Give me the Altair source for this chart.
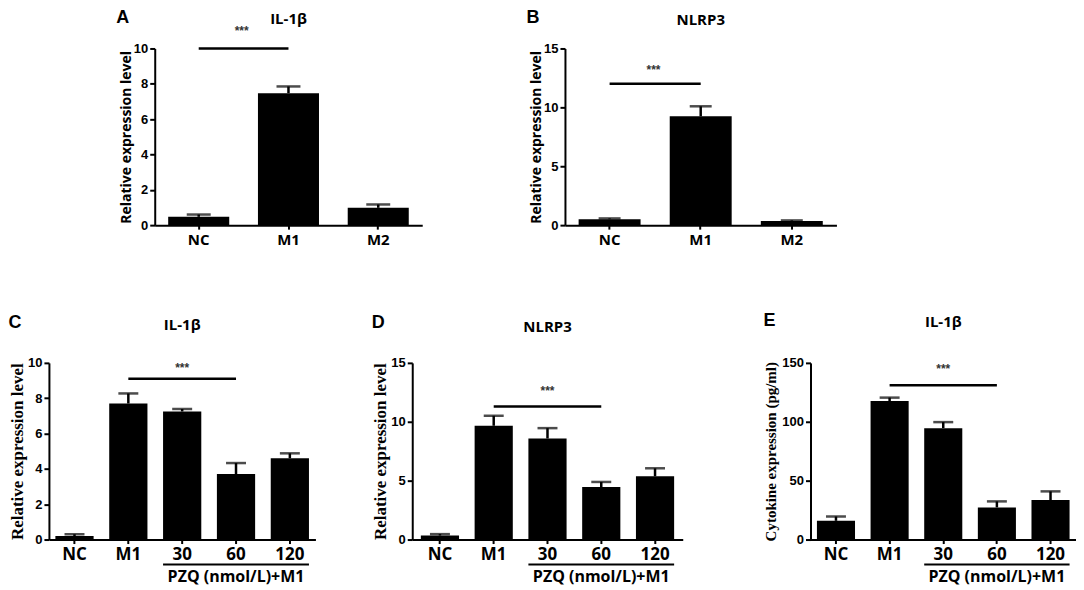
import altair as alt
import pandas as pd

# ---------------- data ----------------
# Panel A: IL-1beta (qPCR)
a_cats = ["NC", "M1", "M2"]
a_vals = [0.47, 7.47, 0.98]
a_errs = [0.13, 0.38, 0.19]
a_ticks = [0, 2, 4, 6, 8, 10]

# Panel B: NLRP3 (qPCR)
b_cats = ["NC", "M1", "M2"]
b_vals = [0.50, 9.24, 0.35]
b_errs = [0.07, 0.85, 0.05]
b_ticks = [0, 5, 10, 15]

# Panels C-E: PZQ treatment
pzq_cats = ["NC", "M1", "30", "60", "120"]
c_vals = [0.20, 7.70, 7.25, 3.71, 4.60]
c_errs = [0.10, 0.57, 0.14, 0.62, 0.28]
c_ticks = [0, 2, 4, 6, 8, 10]

d_vals = [0.34, 9.66, 8.58, 4.46, 5.37]
d_errs = [0.12, 0.85, 0.88, 0.43, 0.68]
d_ticks = [0, 5, 10, 15]

e_vals = [15.9, 117.6, 94.6, 27.3, 33.5]
e_errs = [3.7, 2.9, 5.1, 5.1, 7.4]
e_ticks = [0, 50, 100, 150]

# significance bars: (from, to, level)
a_sig = ("NC", "M1", 10.0)
b_sig = ("NC", "M1", 12.0)
c_sig = ("M1", "60", 9.1)
d_sig = ("M1", "60", 11.3)
e_sig = ("M1", "60", 131.0)

group_label = "PZQ (nmol/L)+M1"
one = pd.DataFrame({"a": [0]})


def panel(letter, gene, cats, vals, errs, ymax, yticks, ytitle, sig, star_cat,
          star_dx, star_dy, w, h, top_row, pi, po, cap_w, letter_xy, gene_y,
          ytitle_font, ytitle_size, ytitle_pad):
    lab_size = 15 if top_row else 17
    df = pd.DataFrame({"cat": cats, "val": vals,
                       "top": [v + e for v, e in zip(vals, errs)]})
    df_cap = pd.DataFrame({"cat": cats, "val": [v + e for v, e in zip(vals, errs)]})

    xs = alt.Scale(domain=cats, paddingInner=pi, paddingOuter=po)
    xax = alt.Axis(title=None, labelAngle=0, labelFont="Open Sans",
                   labelFontWeight="bold", labelFontSize=lab_size, labelPadding=3,
                   tickSize=4, tickWidth=2, domainWidth=2, labelColor="black",
                   domainColor="black", tickColor="black")
    ys = alt.Scale(domain=[0, ymax], nice=False, zero=True)
    yax = alt.Axis(values=yticks, title=ytitle, titleFont=ytitle_font,
                   titleFontSize=ytitle_size, titleFontWeight="bold",
                   titlePadding=ytitle_pad, titleColor="black",
                   labelFont="Liberation Sans", labelFontWeight="bold",
                   labelFontSize=13, labelPadding=2, tickSize=5, tickWidth=2,
                   domainWidth=2, labelColor="black", domainColor="black",
                   tickColor="black", grid=False, format="d")
    X = alt.X("cat:N", scale=xs, axis=xax)
    Y = alt.Y("val:Q", scale=ys, axis=yax)

    bars = alt.Chart(df).mark_bar(color="black").encode(x=X, y=Y)
    err = alt.Chart(df).mark_rule(color="black", strokeWidth=2.5).encode(
        x=X, y=Y, y2="top:Q")
    cap = alt.Chart(df_cap).mark_tick(color="black", size=cap_w,
                                      thickness=2.5).encode(x=X, y=Y)
    sig_df = pd.DataFrame({"cat": [sig[0]], "cat2": [sig[1]], "val": [sig[2]]})
    sig_line = alt.Chart(sig_df).mark_rule(color="black", strokeWidth=2.5).encode(
        x=X, x2="cat2:N", y=Y)
    star_df = pd.DataFrame({"cat": [star_cat], "val": [sig[2]]})
    stars = alt.Chart(star_df).mark_text(
        text="***", dx=star_dx, dy=-star_dy, fontSize=12, font="Liberation Sans",
        fontWeight="bold", color="#333333").encode(x=X, y=Y)
    let = alt.Chart(one).mark_text(
        text=letter, font="Liberation Sans", fontWeight="bold", fontSize=18,
        color="black", align="center", baseline="middle").encode(
        x=alt.value(letter_xy[0]), y=alt.value(letter_xy[1]))
    gen = alt.Chart(one).mark_text(
        text=gene, font="Open Sans", fontWeight="bold", fontSize=15,
        color="black", align="center", baseline="middle").encode(
        x=alt.value(w / 2), y=alt.value(gene_y))
    layers = [bars, err, cap, sig_line, stars, let, gen]
    if not top_row:
        ul_df = pd.DataFrame({"cat": ["30"], "cat2": ["120"]})
        ul = alt.Chart(ul_df).mark_rule(color="black", strokeWidth=2).encode(
            x=alt.X("cat:N", scale=xs, axis=xax, bandPosition=0),
            x2=alt.X2("cat2:N", bandPosition=1),
            y=alt.value(h + 25))
        gl_df = pd.DataFrame({"cat": ["60"]})
        gl = alt.Chart(gl_df).mark_text(
            text=group_label, font="Open Sans", fontWeight="bold", fontSize=16,
            color="black", align="center", baseline="middle").encode(
            x=alt.X("cat:N", scale=xs, axis=xax), y=alt.value(h + 38))
        layers += [ul, gl]
    return alt.layer(*layers).properties(width=w, height=h)


def spacer(w, h=177):
    return alt.Chart(one).mark_point(opacity=0).encode(
        x=alt.value(0), y=alt.value(0)).properties(width=w, height=h)


pA = panel("A", "IL-1β", a_cats, a_vals, a_errs, 10, a_ticks,
           "Relative expression level", a_sig, "NC", 43, 17, 268, 177, True,
           0.32, 0.15, 24, (-32, -31), -30, "Open Sans", 14, 0)
pB = panel("B", "NLRP3", b_cats, b_vals, b_errs, 15, b_ticks,
           "Relative expression level", b_sig, "NC", 44, 14, 272, 177, True,
           0.32, 0.15, 22, (-32, -31), -29, "Open Sans", 14, 0)
pC = panel("C", "IL-1β", pzq_cats, c_vals, c_errs, 10, c_ticks,
           "Relative expression level", c_sig, "30", 0, 11, 267, 177, False,
           0.29, 0.12, 20, (-34, -40), -38, "Liberation Serif", 17, 1)
pD = panel("D", "NLRP3", pzq_cats, d_vals, d_errs, 15, d_ticks,
           "Relative expression level", d_sig, "30", 0, 15, 271, 177, False,
           0.29, 0.16, 20, (-34, -40), -36, "Liberation Serif", 17, 1)
pE = panel("E", "IL-1β", pzq_cats, e_vals, e_errs, 150, e_ticks,
           "Cytokine expression (pg/ml)", e_sig, "30", 0, 16, 266, 177, False,
           0.29, 0.12, 20, (-41, -42), -41, "Liberation Serif", 15, 3)

top = alt.hconcat(spacer(106), pA, spacer(143), pB, spacing=0,
                  bounds="flush").resolve_scale(x="independent", y="independent")
bottom = alt.hconcat(pC, spacer(97), pD, spacer(128), pE, spacing=0,
                     bounds="flush").resolve_scale(x="independent", y="independent")

chart = alt.vconcat(top, bottom, spacing=65).resolve_scale(
    x="independent", y="independent").properties(
    padding=0, background="white").configure_view(strokeWidth=0)

chart.save("out.html", embed_options={"renderer": "svg", "actions": False})
